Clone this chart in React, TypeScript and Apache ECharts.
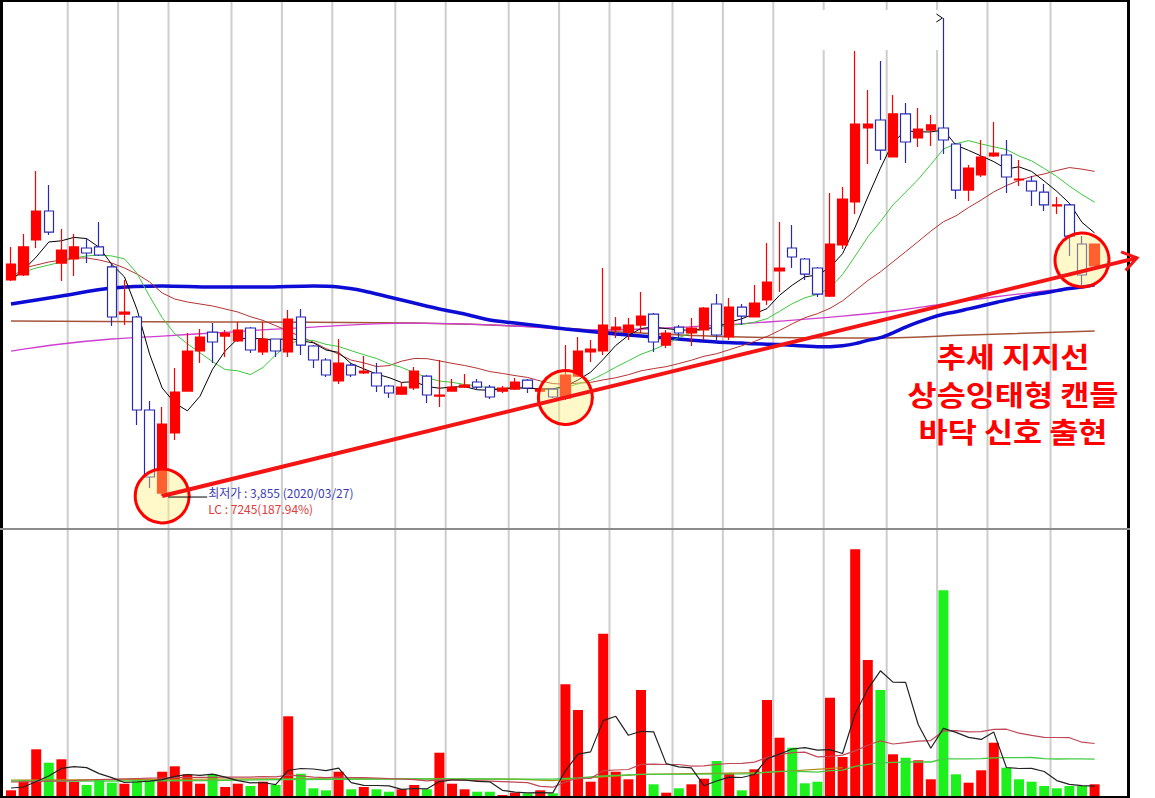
import React, { useEffect, useRef } from "react";
import * as echarts from "echarts";

// ---- data ----
const dates = [
  "2020/03/11","2020/03/12","2020/03/13","2020/03/16","2020/03/17","2020/03/18","2020/03/19","2020/03/20","2020/03/23","2020/03/24",
  "2020/03/25","2020/03/26","2020/03/27","2020/03/30","2020/03/31","2020/04/01","2020/04/02","2020/04/03","2020/04/06","2020/04/07",
  "2020/04/08","2020/04/09","2020/04/10","2020/04/13","2020/04/14","2020/04/16","2020/04/17","2020/04/20","2020/04/21","2020/04/22",
  "2020/04/23","2020/04/24","2020/04/27","2020/04/28","2020/04/29","2020/05/04","2020/05/06","2020/05/07","2020/05/08","2020/05/11",
  "2020/05/12","2020/05/13","2020/05/14","2020/05/15","2020/05/18","2020/05/19","2020/05/20","2020/05/21","2020/05/22","2020/05/25",
  "2020/05/26","2020/05/27","2020/05/28","2020/05/29","2020/06/01","2020/06/02","2020/06/03","2020/06/04","2020/06/05","2020/06/08",
  "2020/06/09","2020/06/10","2020/06/11","2020/06/12","2020/06/15","2020/06/16","2020/06/17","2020/06/18","2020/06/19","2020/06/22",
  "2020/06/23","2020/06/24","2020/06/25","2020/06/26","2020/06/29","2020/06/30","2020/07/01","2020/07/02","2020/07/03","2020/07/06",
  "2020/07/07","2020/07/08","2020/07/09","2020/07/10","2020/07/13","2020/07/14","2020/07/15",
];

const opens = [
  6761, 6828, 7299, 7689, 6989, 7043, 7191, 7205, 6936, 6303,
  6263, 5012, 3895, 4703, 5267, 5806, 6061, 6007, 5940, 6115,
  5792, 5967, 5792, 6263, 5873, 5685, 5402, 5617, 5510, 5510,
  5335, 5227, 5308, 5469, 5200, 5267, 5321, 5389, 5321, 5267,
  5294, 5415, 5267, 5294, 5173, 5469, 5792, 5806, 6088, 6061,
  6155, 6303, 5886, 6128, 6048, 6088, 6438, 5994, 6397, 6263,
  6492, 6882, 7191, 7043, 6922, 6545, 7232, 7810, 8805, 8913,
  8415, 8994, 8671, 8778, 8805, 8590, 7971, 8173, 8429, 8442,
  8106, 8092, 7944, 7756, 7770, 7245, 6949,
];
const closes = [
  6976, 7205, 7689, 7406, 7164, 7205, 7124, 7097, 6263, 6330,
  5012, 4111, 4824, 5254, 5806, 5994, 5927, 6048, 6088, 5819,
  5967, 5806, 6236, 5886, 5685, 5483, 5644, 5483, 5536, 5335,
  5241, 5321, 5536, 5214, 5214, 5321, 5348, 5321, 5187, 5308,
  5389, 5308, 5294, 5187, 5483, 5806, 5832, 6155, 6128, 6155,
  6276, 5927, 6048, 6048, 6115, 6384, 6021, 6397, 6276, 6451,
  6734, 6922, 7070, 6841, 6572, 7245, 7850, 8859, 8859, 8509,
  8994, 8617, 8792, 8846, 8644, 7971, 8267, 8415, 8469, 8146,
  8119, 7958, 7770, 7770, 7352, 6828, 7245,
];
const lows = [
  6747, 6814, 7191, 7366, 6747, 6814, 6989, 7084, 6142, 6155,
  4810, 3963, 3855, 4609, 5267, 5644, 5644, 5725, 5927, 5779,
  5752, 5725, 5725, 5752, 5577, 5456, 5362, 5456, 5496, 5254,
  5173, 5214, 5281, 5106, 5052, 5267, 5308, 5281, 5160, 5241,
  5281, 5241, 5241, 5173, 5147, 5456, 5658, 5752, 5980, 5953,
  6048, 5792, 5846, 5980, 5873, 5953, 5927, 5953, 6155, 6263,
  6424, 6599, 6922, 6761, 6532, 6532, 7178, 7648, 8321, 8375,
  8415, 8335, 8550, 8563, 8456, 7850, 7823, 8146, 8415, 7931,
  8025, 7756, 7689, 7648, 7084, 6693, 6949,
];
const highs = [
  7205, 7379, 8227, 8039, 7447, 7379, 7326, 7540, 6989, 6761,
  6276, 5133, 5052, 5577, 6048, 6102, 6182, 6088, 6196, 6128,
  6196, 5967, 6357, 6370, 5886, 5711, 5967, 5644, 5738, 5644,
  5348, 5389, 5590, 5483, 5685, 5429, 5496, 5429, 5348, 5335,
  5442, 5429, 5321, 5308, 5886, 5994, 5953, 6922, 6263, 6249,
  6599, 6317, 6088, 6155, 6249, 6397, 6572, 6518, 6438, 6693,
  7258, 7540, 7500, 7057, 6936, 7931, 8012, 9841, 9316, 9706,
  9249, 9141, 9074, 8980, 10285, 8604, 8308, 8644, 8886, 8644,
  8375, 8160, 8052, 7877, 7783, 7352, 7245,
];
// volume in thousand shares
const volumes = [
  57, 157, 467, 333, 367, 143, 110, 167, 133, 123,
  167, 150, 243, 297, 217, 123, 217, 90, 123, 100,
  143, 110, 797, 223, 77, 57, 243, 67, 90, 67,
  43, 67, 110, 67, 433, 123, 67, 43, 43, 10,
  33, 27, 57, 27, 1117, 860, 143, 1623, 243, 167,
  1060, 117, 33, 77, 117, 173, 350, 227, 57, 267,
  960, 583, 483, 127, 143, 983, 390, 2467, 1360, 1060,
  417, 383, 357, 167, 2057, 217, 133, 257, 533, 283,
  167, 143, 100, 77, 100, 100, 117,
];
// u = rising day (red bar), d = falling day (green bar)
const volumeUpDown = "uuuduudddu" + "dduuuuduud" + "ududddudud" + "duuduuuddu" + "ududuuuuuu" + "ududuududu" + "uuddduuuud" + "uduudduuud" + "ddddddu";

// category indices where a vertical grid line starts
const gridBreaks = [5, 9, 13, 18, 22, 26, 31, 35, 40, 44, 48, 53, 57, 61, 65, 70, 74, 78, 83];

// moving-average values before enough in-window history exists
const ma5Head = [6761, 6895, 7070, 7272];
const ma10Head = [6774, 6868, 6922, 6962, 7003, 7057, 7084, 7097, 7084];
const ma20Head = [6787, 6922, 6962, 7003, 7030, 7057, 7057, 7030, 6989, 6922, 6841, 6734, 6586, 6505, 6465, 6438, 6411, 6371, 6330];
const ma60Head: [number, number][] = [[0, 6438], [4, 6545], [8, 6653], [12, 6680], [16, 6666], [20, 6666], [24, 6680], [26, 6666], [28, 6613], [30, 6532], [32, 6451], [34, 6371], [36, 6303], [38, 6222], [40, 6182], [44, 6102], [48, 6034], [52, 5980], [56, 5927], [58, 5913]];
const ma120Line: [number, number][] = [[0, 5805], [4, 5900], [8, 5967], [12, 6007], [16, 6048], [24, 6128], [32, 6182], [40, 6142], [46, 6088], [52, 6115], [60, 6196], [66, 6276], [70, 6344], [74, 6438], [78, 6532], [82, 6613], [86, 6693]];
const ma240Line: [number, number][] = [[0, 6209], [16, 6196], [32, 6182], [42, 6128], [50, 6048], [58, 5994], [68, 5980], [76, 6021], [86, 6075]];
const volMa5Head = [80, 90, 145, 200];
const volMa20Head = [140, 142, 145, 148, 150, 155, 160, 165, 168, 172, 175, 178, 180, 183, 185, 186, 187, 188, 189];
const volMa60Head: [number, number][] = [[0, 150], [8, 150], [16, 155], [22, 165], [30, 170], [38, 170], [43, 168], [44, 177], [45, 180], [47, 200], [50, 217], [54, 218], [58, 222]];
const volOliveLine: [number, number][] = [[0, 160], [10, 165], [20, 172], [30, 172], [40, 168], [43, 153], [46, 183], [50, 217], [60, 235], [66, 283]];

// annotated candles (index, anchor price)
const signalMarks: [number, number][] = [[12, 3855], [44, 5180], [85, 7030]];
const noteLines = ["추세 지지선", "상승잉태형 캔들", "바닥 신호 출현"];

const PRICE_MIN = 3425;
const PRICE_MAX = 10527;
const VOL_MAX = 2660;

function sma(values: number[], n: number, head: number[]): (number | null)[] {
  return values.map((_, i) => {
    if (i < n - 1) return head[i] ?? null;
    let s = 0;
    for (let k = i - n + 1; k <= i; k++) s += values[k];
    return Math.round(s / n);
  });
}
function smaPairs(values: number[], n: number, head: [number, number][]): [number, number][] {
  const out: [number, number][] = head.map((p) => [p[0], p[1]]);
  for (let i = n - 1; i < values.length; i++) {
    let s = 0;
    for (let k = i - n + 1; k <= i; k++) s += values[k];
    out.push([i, Math.round(s / n)]);
  }
  return out;
}
function fmt(n: number) {
  return String(n).replace(/\B(?=(\d{3})+(?!\d))/g, ",");
}

export default function App() {
  const ref = useRef<HTMLDivElement>(null);
  useEffect(() => {
    if (!ref.current) return;
    const chart = echarts.init(ref.current, null, { renderer: "svg" });
    const axisData = [...dates, "", " "];
    const candle = dates.map((_, i) => [opens[i], closes[i], lows[i], highs[i]]);
    const line = (name: string, data: any, color: string, width: number, xi = 0, smooth: any = false, z = 2) => ({
      name, type: "line", data, xAxisIndex: xi, yAxisIndex: xi, symbol: "none", smooth, silent: true, z,
      lineStyle: { color, width }, emphasis: { disabled: true },
    });
    const axisX = (g: number) => ({
      type: "category", gridIndex: g, data: axisData, boundaryGap: true, show: false,
      axisLine: { show: false }, axisTick: { show: false }, axisLabel: { show: false }, splitLine: { show: false },
    });
    const axisY = (g: number, min: number, max: number) => ({
      type: "value", gridIndex: g, min, max, show: false,
      axisLine: { show: false }, axisTick: { show: false }, axisLabel: { show: false }, splitLine: { show: false },
    });

    chart.setOption({
      animation: false,
      backgroundColor: "#ffffff",
      grid: [
        { left: 4.7, top: 0, width: 1121.4, height: 528, show: false },
        { left: 4.7, top: 530, width: 1121.4, height: 266, show: false },
      ],
      xAxis: [axisX(0), axisX(1)],
      yAxis: [axisY(0, PRICE_MIN, PRICE_MAX), axisY(1, 0, VOL_MAX)],
      series: [
        line("MA240", ma240Line, "#a5553a", 1.5, 0, 0.4),
        line("MA120", ma120Line, "#d040d0", 1.3, 0, 0.4),
        line("MA60", smaPairs(closes, 60, ma60Head), "#0c0cd4", 3.5, 0, 0.3),
        line("MA20", sma(closes, 20, ma20Head), "#b83232", 1),
        line("MA10", sma(closes, 10, ma10Head), "#3cc83c", 1),
        line("MA5", sma(closes, 5, ma5Head), "#000000", 1),
        {
          name: "price", type: "candlestick", data: candle, xAxisIndex: 0, yAxisIndex: 0, barWidth: 10, z: 5, silent: true,
          itemStyle: { color: "#ff0000", color0: "#ffffff", borderColor: "#ff0000", borderColor0: "#2828b0", borderWidth: 1.2 },
        },
        {
          name: "volume", type: "bar", xAxisIndex: 1, yAxisIndex: 1, barWidth: 10, z: 2, silent: true,
          data: volumes.map((v, i) => ({ value: v, itemStyle: { color: volumeUpDown[i] === "u" ? "#ff0000" : "#1ef01e" } })),
        },
        line("VMA120", volOliveLine, "#b08a10", 1.2, 1, false, 3),
        line("VMA60", smaPairs(volumes, 60, volMa60Head), "#44cc44", 1.3, 1, false, 3),
        line("VMA20", sma(volumes, 20, volMa20Head), "#c04858", 1.2, 1, false, 3),
        line("VMA5", sma(volumes, 5, volMa5Head), "#222222", 1.2, 1, false, 3),
      ],
    });

    const px = (i: number, v: number) => chart.convertToPixel({ xAxisIndex: 0, yAxisIndex: 0 }, [i, v]) as number[];
    const lowVal = Math.min(...lows);
    const lowIdx = lows.indexOf(lowVal);
    const lastClose = closes[closes.length - 1];
    const maxIdx = highs.indexOf(Math.max(...highs));
    const centers = signalMarks.map(([i, v]) => px(i, v));
    const [c1, c2] = centers;
    const xEnd = 1137;
    const slope = (c2[1] - c1[1]) / (c2[0] - c1[0]);
    const yEnd = c1[1] + slope * (xEnd - c1[0]);
    const ang = Math.atan2(yEnd - c1[1], xEnd - c1[0]);
    const head = (d: number) => [xEnd - 17 * Math.cos(ang + d), yEnd - 17 * Math.sin(ang + d)];
    const lowPt = px(lowIdx, lowVal);
    const topPt = px(maxIdx, highs[maxIdx]);
    const kFont = "bold 28px 'Noto Sans CJK KR', sans-serif";
    const gridXs = gridBreaks.map((i) => (px(i - 1, PRICE_MIN)[0] + px(i, PRICE_MIN)[0]) / 2);

    chart.setOption({
      graphic: [
        ...gridXs.flatMap((x) => [
          { type: "line", shape: { x1: x, y1: 0, x2: x, y2: 528 }, style: { stroke: "#cdcdcd", lineWidth: 2 }, z: 0, silent: true },
          { type: "line", shape: { x1: x, y1: 530, x2: x, y2: 796 }, style: { stroke: "#cdcdcd", lineWidth: 2 }, z: 0, silent: true },
        ]),
        { type: "rect", shape: { x: 800, y: 10, width: 138, height: 40 }, style: { fill: "#ffffff" }, z: 1, silent: true },
        { type: "rect", shape: { x: 0, y: 0, width: 1130, height: 2 }, style: { fill: "#000000" }, z: 90, silent: true },
        { type: "rect", shape: { x: 0, y: 0, width: 3, height: 798 }, style: { fill: "#000000" }, z: 90, silent: true },
        { type: "rect", shape: { x: 1127, y: 0, width: 3, height: 798 }, style: { fill: "#000000" }, z: 90, silent: true },
        { type: "rect", shape: { x: 0, y: 796, width: 1130, height: 2 }, style: { fill: "#000000" }, z: 90, silent: true },
        { type: "rect", shape: { x: 0, y: 528, width: 1130, height: 2 }, style: { fill: "#8c8c8c" }, z: 90, silent: true },
        ...centers.map((c) => ({
          type: "circle", shape: { cx: c[0], cy: c[1], r: 27 },
          style: { fill: "rgba(255,240,120,0.4)", stroke: "#ff0000", lineWidth: 3 }, z: 100, silent: true,
        })),
        { type: "line", shape: { x1: c1[0], y1: c1[1], x2: xEnd, y2: yEnd }, style: { stroke: "#f41414", lineWidth: 4 }, z: 101, silent: true },
        {
          type: "polyline", shape: { points: [head(0.6), [xEnd, yEnd], head(-0.6)] },
          style: { stroke: "#f41414", lineWidth: 3, fill: null }, z: 101, silent: true,
        },
        { type: "line", shape: { x1: lowPt[0] + 6, y1: lowPt[1] + 1, x2: lowPt[0] + 45, y2: lowPt[1] + 1 }, style: { stroke: "#000000", lineWidth: 1 }, z: 102, silent: true },
        {
          type: "polyline", shape: { points: [[topPt[0] - 7, topPt[1] - 4], [topPt[0] - 1, topPt[1]], [topPt[0] - 7, topPt[1] + 4]] },
          style: { stroke: "#000000", lineWidth: 1, fill: null }, z: 102, silent: true,
        },
        {
          type: "text", z: 102, silent: true,
          style: {
            text: `최저가 : ${fmt(lowVal)} (${dates[lowIdx]})`, x: lowPt[0] + 46, y: lowPt[1] - 4,
            fill: "#3c3cb4", font: "12px 'Noto Sans CJK KR', sans-serif", align: "left", verticalAlign: "middle",
            textAlign: "left", textVerticalAlign: "middle",
          },
        },
        {
          type: "text", z: 102, silent: true,
          style: {
            text: `LC : ${lastClose}(${((lastClose / lowVal) * 100).toFixed(2)}%)`, x: lowPt[0] + 46, y: lowPt[1] + 12,
            fill: "#e03c3c", font: "12px 'Noto Sans CJK KR', sans-serif", align: "left", verticalAlign: "middle",
            textAlign: "left", textVerticalAlign: "middle",
          },
        },
        ...noteLines.map((t, k) => ({
          type: "text", z: 103, silent: true, x: 1013, y: 356 + k * 37.5, scaleX: 1.13,
          style: {
            text: t, x: 0, y: 0, fill: "#ff0000", font: kFont,
            align: "center", verticalAlign: "middle", textAlign: "center", textVerticalAlign: "middle",
          },
        })),
      ],
    });

    return () => chart.dispose();
  }, []);
  return <div ref={ref} style={{ position: "absolute", left: 0, top: 0, width: 1155, height: 798 }} />;
}
